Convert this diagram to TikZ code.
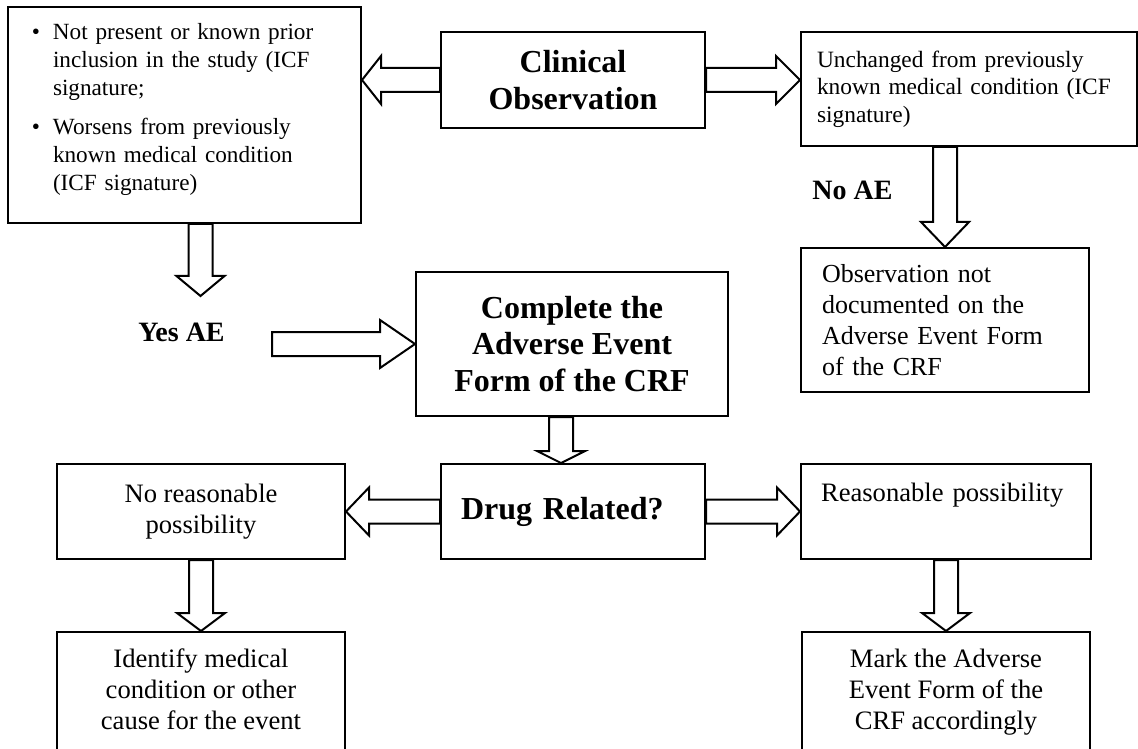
\documentclass[tikz,border=0pt]{standalone}
\usepackage{fontspec}
\setmainfont{Liberation Serif}
\usetikzlibrary{positioning, calc}

\newcommand{\bitem}[1]{\makebox[10.5pt][l]{\textbullet}\begin{tabular}[t]{@{}l@{}}#1\end{tabular}}
% hollow block arrow: [head length]{tail}{tip}
\newcommand{\fatarr}[3][12pt]{%
  \coordinate (fa-b) at ($(#3)!#1!(#2)$);
  \draw[fatline] ($(#2)!6pt!-90:(#3)$) -- ($(fa-b)!6pt!90:(#2)$) -- ($(fa-b)!12pt!90:(#2)$)
    -- (#3) -- ($(fa-b)!12pt!-90:(#2)$) -- ($(fa-b)!6pt!-90:(#2)$) -- ($(#2)!6pt!90:(#3)$) -- cycle;}

\begin{document}
\begin{tikzpicture}[x=0.5pt, y=-0.5pt, node distance=35.5pt and 47pt,
  font=\fontsize{13.3}{15.5}\selectfont,
  b/.style={draw, line width=1pt, align=center, inner sep=6pt, minimum width=144pt, minimum height=47.5pt},
  hd/.style={font=\fontsize{16}{18.3}\selectfont\bfseries},
  lbl/.style={font=\fontsize{14}{16}\selectfont\bfseries},
  fatline/.style={line width=1pt, line join=miter}]
\useasboundingbox (0,0) rectangle (1138,748);

% top part
\node[b, hd, minimum width=132pt, minimum height=48pt] (obs) at (573,80) {Clinical\\Observation};
\node[b, align=left, text width=152.5pt, inner xsep=12pt, minimum width=176.5pt, minimum height=108pt,
  font=\fontsize{11.6}{14}\selectfont] (new) at (184.5,115)
  {\bitem{Not present or known prior\\inclusion in the study (ICF\\signature;}\\[4.5pt]%
   \bitem{Worsens from previously\\known medical condition\\(ICF signature)}\\[5pt]\mbox{}};
\node[b, align=left, text width=152pt, inner xsep=8pt, minimum width=168pt, minimum height=57pt,
  font=\fontsize{11.7}{13.8}\selectfont] (same) at (969,89)
  {Unchanged from previously\\known medical condition (ICF\\signature)};
\node[lbl] (noae) at (852.5,190) {No AE};
\node[b, align=left, text width=123pt, inner xsep=10.5pt, minimum height=72pt,
  font=\fontsize{13}{15.5}\selectfont] (nodoc) at (945,320)
  {Observation not\\documented on the\\Adverse Event Form\\of the CRF};
\node[lbl] (yesae) at (181.5,332) {Yes AE};
\node[b, hd, minimum width=156pt, minimum height=72pt] (form) at (572,344) {Complete the\\Adverse Event\\Form of the CRF};

% bottom part
\node[b] (nrp) at (201,511.5) {No reasonable\\possibility};
\node[b, hd, align=left, text width=112pt, inner xsep=10pt, minimum width=132pt, right=of nrp] (drug) {Drug Related?};
\node[b, align=left, text width=125pt, inner xsep=10pt, minimum width=145pt, right=of drug] (rp) {Reasonable possibility\\[4pt]\mbox{}};
\node[b, minimum height=69pt, below=of nrp] (cause) {Identify medical\\condition or other\\cause for the event\\[-3.5pt]\mbox{}};
\node[b, minimum height=69pt, below=of rp] (mark) {Mark the Adverse\\Event Form of the\\CRF accordingly\\[-3.5pt]\mbox{}};

% arrows
\coordinate (a2) at (200.5,296);
\coordinate (a1) at (new.south -| a2);
\coordinate (a3) at (272,344);
\coordinate (a4) at ($(form.south)+(-5.5pt,0)$);
\coordinate (a5) at (a4 |- drug.north);
\coordinate (a6) at (nodoc.north |- same.south);
\coordinate (a7) at (new.east |- obs.west);
\coordinate (a8) at (same.west |- obs.east);
\fatarr[9.5pt]{obs.west}{a7}
\fatarr{obs.east}{a8}
\fatarr[10pt]{a1}{a2}
\fatarr[17.5pt]{a3}{form.west}
\fatarr[6pt]{a4}{a5}
\fatarr[12.5pt]{a6}{nodoc.north}
\fatarr[11.5pt]{drug.west}{nrp.east}
\fatarr[11.5pt]{drug.east}{rp.west}
\fatarr[9pt]{nrp.south}{cause.north}
\fatarr[9pt]{rp.south}{mark.north}
\end{tikzpicture}
\end{document}
